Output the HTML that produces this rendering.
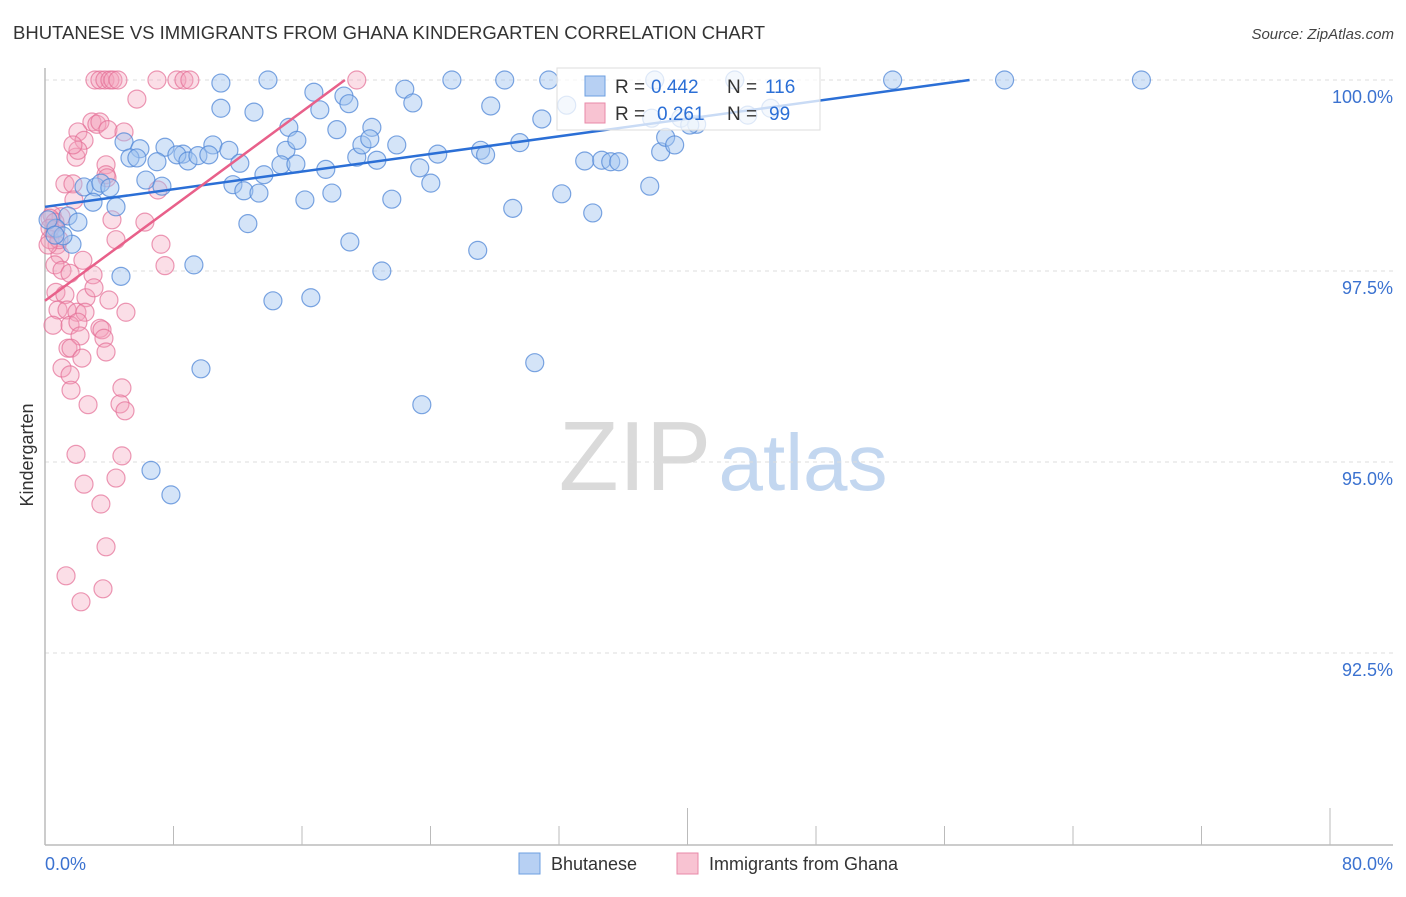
<!DOCTYPE html>
<html><head><meta charset="utf-8"><style>
body{margin:0;background:#fff;font-family:"Liberation Sans",sans-serif;}
svg text{font-family:"Liberation Sans",sans-serif;}
</style></head><body>
<svg id="chart" width="1406" height="892" xmlns="http://www.w3.org/2000/svg">
<text x="13" y="39" font-size="18.5" fill="#333">BHUTANESE VS IMMIGRANTS FROM GHANA KINDERGARTEN CORRELATION CHART</text>
<text x="1394" y="39" font-size="15" fill="#444" font-style="italic" text-anchor="end">Source: ZipAtlas.com</text>
<text transform="translate(33,455) rotate(-90)" font-size="18" fill="#333" text-anchor="middle">Kindergarten</text>
<g>
<text x="635" y="490" font-size="98" fill="#dadada" font-family="Liberation Serif" text-anchor="middle">ZIP</text>
<text x="803" y="490" font-size="80" fill="#c3d7f0" text-anchor="middle">atlas</text>
</g>
<g id="grid"></g><g id="axes"></g><g id="marks"></g><g id="lines"></g>
<g>
<rect x="557" y="68" width="263" height="62" fill="#fff" fill-opacity="0.75" stroke="#ddd"/>
<rect x="585" y="76" width="20" height="20" fill="#b7d0f3" stroke="#6d9fe0"/>
<text x="615" y="93" font-size="19" fill="#333">R =</text>
<text x="651" y="93" font-size="19" fill="#2b6fd6">0.442</text>
<text x="727" y="93" font-size="19" fill="#333">N =</text>
<text x="765" y="93" font-size="19" fill="#2b6fd6">116</text>
<rect x="585" y="103" width="20" height="20" fill="#f8c3d2" stroke="#e88aa8"/>
<text x="615" y="120" font-size="19" fill="#333">R =</text>
<text x="657" y="120" font-size="19" fill="#2b6fd6">0.261</text>
<text x="727" y="120" font-size="19" fill="#333">N =</text>
<text x="769" y="120" font-size="19" fill="#2b6fd6">99</text>
</g>
<g>
<rect x="519" y="853" width="21" height="21" fill="#b7d0f3" stroke="#6d9fe0"/>
<text x="551" y="870" font-size="18" fill="#333">Bhutanese</text>
<rect x="677" y="853" width="21" height="21" fill="#f8c3d2" stroke="#e88aa8"/>
<text x="709" y="870" font-size="18" fill="#333">Immigrants from Ghana</text>
</g>
</svg>
<script>
const yTicks=[100,97.5,95,92.5];
const yTickLabels=["100.0%","97.5%","95.0%","92.5%"];
const xTicks=[0,8,16,24,32,40,48,56,64,72,80];
const xTickLabels=["0.0%","80.0%"];
const blueX=[10.95,13.88,25.33,28.62,31.36,37.96,42.94,52.77,59.74,68.26,16.74,18.61,22.40,18.92,22.90,27.75,10.95,13.01,17.11,30.93,32.48,37.77,39.58,40.57,43.75,45.18,15.18,18.17,20.35,4.92,5.91,7.47,10.45,8.59,5.29,5.72,6.97,8.21,8.90,9.52,10.20,11.45,12.13,15.00,15.68,14.69,15.62,17.48,19.41,19.73,20.66,20.22,21.90,24.45,23.33,27.12,27.43,29.56,33.60,34.66,35.22,35.72,38.33,38.64,39.20,40.14,2.43,3.17,3.48,4.04,6.28,7.28,11.70,12.38,13.32,13.63,16.18,17.86,24.02,21.59,32.17,37.65,29.12,34.10,2.99,4.42,1.43,2.05,0.68,0.19,12.63,18.98,1.68,26.94,4.73,9.27,20.97,14.19,16.55,9.71,30.49,23.46,6.60,7.84,1.12,0.62];
const blueY=[99.96,100,100,100,100,100,100,100,100,100,99.84,99.79,99.88,99.69,99.70,99.66,99.63,99.58,99.61,99.49,99.67,99.50,99.50,99.42,99.54,99.63,99.38,99.35,99.38,99.19,99.10,99.12,99.15,99.03,98.98,98.98,98.93,99.02,98.94,99.01,99.02,99.08,98.91,99.08,99.21,98.89,98.90,98.83,98.99,99.15,98.95,99.23,99.15,99.03,98.85,99.08,99.02,99.18,98.94,98.95,98.93,98.93,99.06,99.25,99.15,99.41,98.60,98.60,98.65,98.59,98.69,98.61,98.63,98.55,98.52,98.76,98.43,98.52,98.65,98.44,98.51,98.61,98.32,98.26,98.40,98.34,98.22,98.14,98.06,98.17,98.12,97.88,97.85,97.77,97.43,97.58,97.50,97.11,97.15,96.22,96.30,95.75,94.89,94.57,97.96,97.97];
const pinkX=[3.11,3.42,3.73,4.04,4.23,4.54,6.97,8.21,8.65,9.02,19.41,5.72,2.92,3.23,3.42,3.92,2.05,2.43,4.92,1.93,2.05,1.74,1.24,1.74,1.80,1.00,3.80,3.80,3.86,7.03,6.22,4.17,7.22,7.47,4.42,0.44,0.62,0.75,0.93,0.31,0.62,1.06,1.56,2.36,2.99,0.68,1.24,2.55,3.05,3.98,5.04,0.81,1.37,1.99,2.49,0.50,1.56,2.05,3.42,3.55,2.18,3.67,1.43,1.62,3.80,2.30,1.06,1.56,4.79,1.62,4.67,4.98,2.68,1.93,4.79,2.43,4.42,3.48,3.80,1.31,3.61,2.24,0.31,0.62,0.87,0.19,0.31];
const pinkY=[100,100,100,100,100,100,100,100,100,100,100,99.75,99.45,99.42,99.45,99.35,99.32,99.21,99.32,98.99,99.08,99.15,98.64,98.64,98.43,98.21,98.89,98.76,98.72,98.56,98.14,98.17,97.85,97.57,97.91,98.23,98.04,97.84,97.71,97.91,97.58,97.51,97.47,97.64,97.45,97.22,97.19,97.15,97.28,97.12,96.96,96.99,96.99,96.96,96.96,96.79,96.79,96.83,96.75,96.73,96.65,96.62,96.49,96.49,96.44,96.36,96.23,96.14,95.97,95.94,95.76,95.67,95.75,95.10,95.08,94.71,94.79,94.45,93.89,93.51,93.34,93.17,98.19,98.14,97.91,97.84,98.06];
const blueLine=[0,98.34,57.56,100];
const pinkLine=[0,97.11,18.67,100];

const NS="http://www.w3.org/2000/svg";
const X0=45,X1=1330,Y100=80,PX_PER=76.4;
const xs=v=>X0+(v/80)*(X1-X0);
const ys=v=>Y100+(100-v)*PX_PER;
function mk(tag,attrs,parent){const e=document.createElementNS(NS,tag);for(const k in attrs)e.setAttribute(k,attrs[k]);parent.appendChild(e);return e;}
const grid=document.getElementById('grid'),axes=document.getElementById('axes'),marks=document.getElementById('marks'),lines=document.getElementById('lines');
yTicks.forEach((t,i)=>{
 const l=mk('line',{x1:X0,x2:1393,y1:ys(t),y2:ys(t),stroke:'#dcdcdc','stroke-dasharray':'4,4'},grid);
 
 
 const tx=mk('text',{x:1393,y:ys(t)+23,'font-size':18,fill:'#3b72d0','text-anchor':'end'},axes);
 tx.textContent=yTickLabels[i];
 
 
});
const ax=mk('line',{x1:X0,x2:1393,y1:845,y2:845,stroke:'#bbb','stroke-width':1.5},axes);


const ay=mk('line',{x1:X0,x2:X0,y1:68,y2:845,stroke:'#bbb','stroke-width':1.5},axes);


xTicks.forEach((t,i)=>{
 const tall=(i===5||i===10);
 const tk=mk('line',{x1:xs(t),x2:xs(t),y1:tall?808:826,y2:845,stroke:'#bbb'},axes);
 
 
});
const xl0=mk('text',{x:45,y:870,'font-size':18,fill:'#3b72d0'},axes);xl0.textContent=xTickLabels[0];


const xl1=mk('text',{x:1393,y:870,'font-size':18,fill:'#3b72d0','text-anchor':'end'},axes);xl1.textContent=xTickLabels[1];


pinkX.forEach((v,i)=>{
 const c=mk('circle',{cx:xs(v),cy:ys(pinkY[i]),r:9,fill:'rgba(244,160,185,0.35)',stroke:'rgba(228,110,150,0.7)','stroke-width':1.2},marks);
 
 
});
blueX.forEach((v,i)=>{
 const c=mk('circle',{cx:xs(v),cy:ys(blueY[i]),r:9,fill:'rgba(160,196,240,0.45)',stroke:'rgba(80,135,215,0.75)','stroke-width':1.2},marks);
 
 
});
const bl=mk('line',{x1:xs(blueLine[0]),y1:ys(blueLine[1]),x2:xs(blueLine[2]),y2:ys(blueLine[3]),stroke:'#2b6fd6','stroke-width':2.5},lines);


const pl=mk('line',{x1:xs(pinkLine[0]),y1:ys(pinkLine[1]),x2:xs(pinkLine[2]),y2:ys(pinkLine[3]),stroke:'#e8608a','stroke-width':2.5},lines);


</script>
</body></html>
